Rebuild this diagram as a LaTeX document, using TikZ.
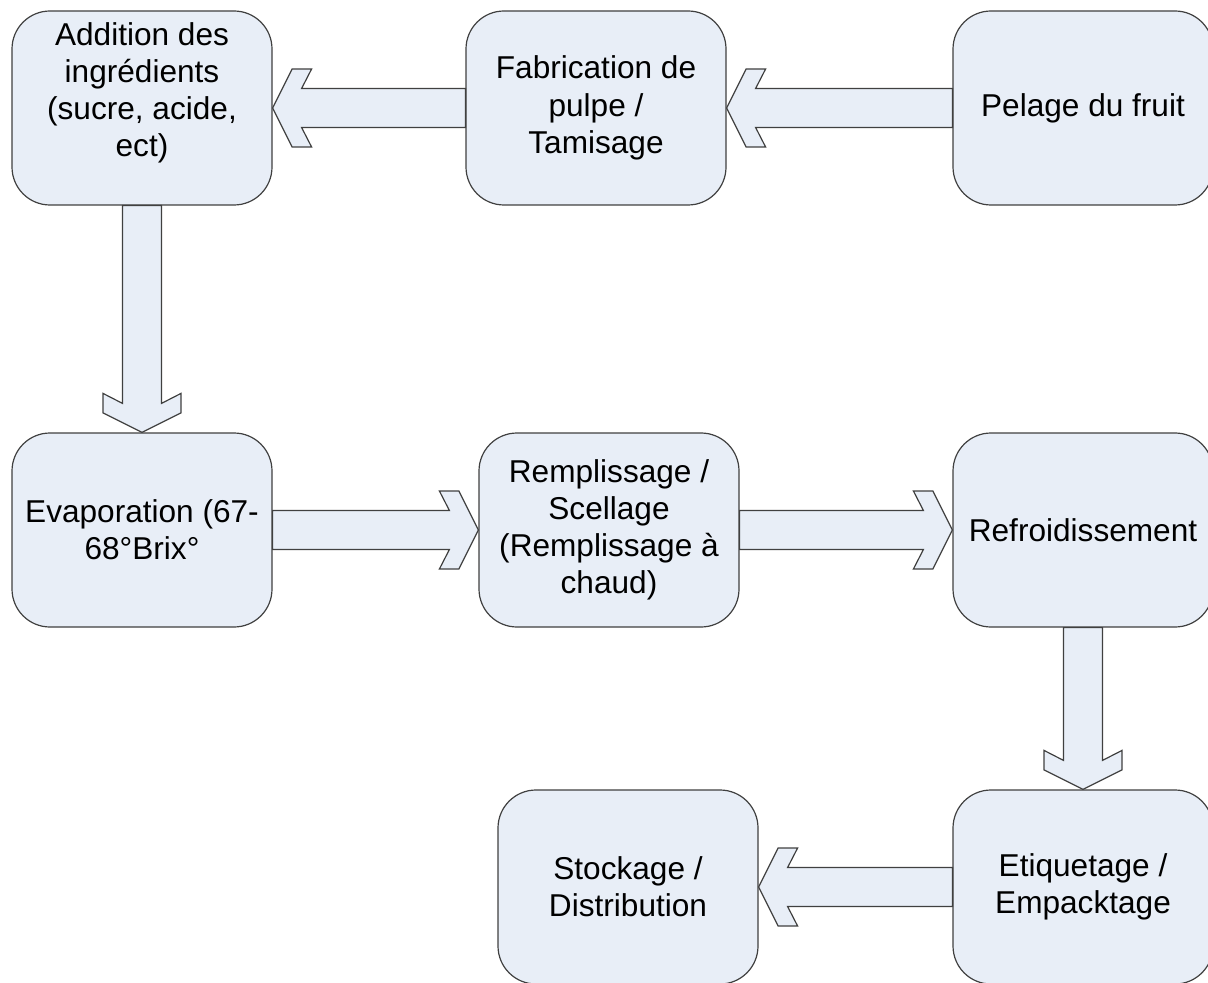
\documentclass[tikz,border=0pt]{standalone}
\usepackage{fontspec}
\setmainfont{Liberation Sans}
\usetikzlibrary{calc}
\definecolor{stepfill}{HTML}{E8EEF7}
\definecolor{stepline}{HTML}{404040}

\begin{document}
\begin{tikzpicture}[x=0.5pt,y=-0.5pt,
	stepbox/.style={draw=stepline,fill=stepfill,line width=0.6pt,rounded corners=19pt,
		minimum width=130pt,minimum height=97pt,inner sep=2pt,align=center,
		font=\fontsize{15.8}{18.6}\selectfont},
	flow/.style={draw=stepline,fill=stepfill,line width=0.6pt,
		to path={let \p1=(\tikztostart),\p2=(\tikztotarget),\n1={atan2(\y2-\y1,\x2-\x1)} in
			($(\p1)+({\n1+90}:9.75pt)$) -- ($(\p2)+({\n1+180}:14.5pt)+({\n1+90}:9.75pt)$)
			-- ($(\p2)+({\n1+180}:19.5pt)+({\n1+90}:19.5pt)$) -- ($(\p2)+({\n1+180}:9.75pt)+({\n1+90}:19.5pt)$)
			-- (\p2)
			-- ($(\p2)+({\n1+180}:9.75pt)+({\n1-90}:19.5pt)$) -- ($(\p2)+({\n1+180}:19.5pt)+({\n1-90}:19.5pt)$)
			-- ($(\p2)+({\n1+180}:14.5pt)+({\n1-90}:9.75pt)$) -- ($(\p1)+({\n1-90}:9.75pt)$) -- cycle}}]
	\useasboundingbox (0,0) rectangle (1208,983);

	\node[stepbox] (add) at (142,108) {Addition des\\ingrédients\\(sucre, acide,\\ect)\\\mbox{}};
	\node[stepbox] (fab) at (596,108) {Fabrication de\\pulpe /\\Tamisage};
	\node[stepbox] (pel) at (1083,108) {Pelage du fruit};
	\node[stepbox] (eva) at (142,530) {Evaporation (67-\\68°Brix°};
	\node[stepbox] (rem) at (609,530) {Remplissage /\\Scellage\\(Remplissage à\\chaud)};
	\node[stepbox] (ref) at (1083,530) {Refroidissement};
	\node[stepbox] (eti) at (1083,887) {Etiquetage /\\Empacktage};
	\node[stepbox] (sto) at (628,887) {Stockage /\\Distribution};

	\draw[flow] (pel.west) to (fab.east);
	\draw[flow] (fab.west) to (add.east);
	\draw[flow] (add.south) to (eva.north);
	\draw[flow] (eva.east) to (rem.west);
	\draw[flow] (rem.east) to (ref.west);
	\draw[flow] (ref.south) to (eti.north);
	\draw[flow] (eti.west) to (sto.east);
\end{tikzpicture}
\end{document}
